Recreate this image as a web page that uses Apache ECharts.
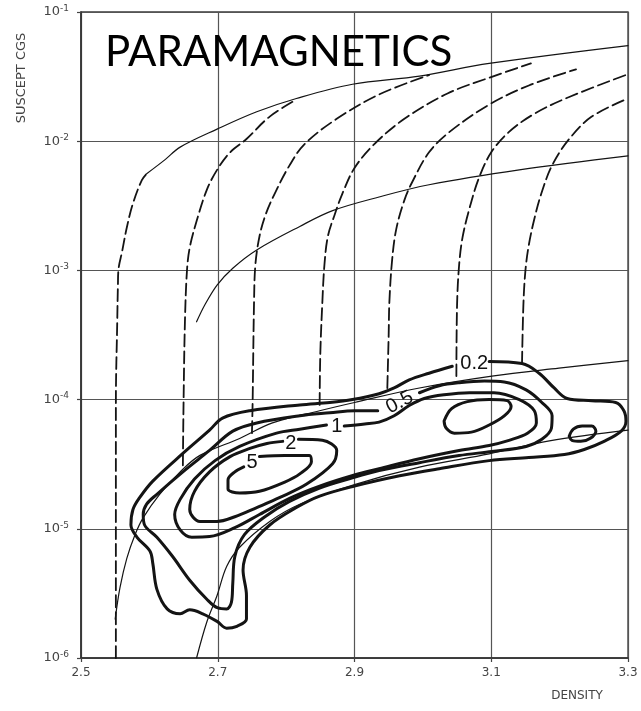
<!DOCTYPE html>
<html>
<head>
<meta charset="utf-8">
<script src="https://cdn.jsdelivr.net/npm/echarts@6/dist/echarts.min.js"></script>
<style>
html, body { margin: 0; padding: 0; background: #fff; }
#chart { width: 641px; height: 711px; }
</style>
</head>
<body>
<div id="chart"></div>
<script>
// Axis ranges: density (g/cm3) and volume susceptibility (cgs), one tick per decade.
const densityTicks = [2.5, 2.7, 2.9, 3.1, 3.3];
const susceptRange = [1e-6, 1e-1];

// Dashed mixing curves, one per starting density: [density, susceptibility]
const dashed255 = [[2.551,1e-6],[2.551,9.5e-5],[2.553,4.0e-4],[2.554,7.7e-4],[2.555,1.04e-3],[2.560,1.39e-3],[2.567,2.15e-3],[2.576,3.3e-3],[2.589,5.0e-3],[2.596,5.6e-3]];
const dashed265 = [[2.649,3.1e-5],[2.650,9.5e-5],[2.652,4.0e-4],[2.655,1.0e-3],[2.659,1.5e-3],[2.669,2.4e-3],[2.684,4.2e-3],[2.699,6.0e-3],[2.718,8.2e-3],[2.742,1.04e-2],[2.776,1.55e-2],[2.815,2.1e-2]];
const dashed275 = [[2.750,5.5e-5],[2.751,9.5e-5],[2.753,5.4e-4],[2.755,1.1e-3],[2.761,1.83e-3],[2.770,2.7e-3],[2.783,3.9e-3],[2.805,6.5e-3],[2.827,9.5e-3],[2.874,1.49e-2],[2.936,2.3e-2],[3.009,3.25e-2]];
const dashed285 = [[2.849,9.1e-5],[2.850,2.27e-4],[2.853,5.7e-4],[2.856,1.1e-3],[2.861,1.83e-3],[2.871,2.7e-3],[2.882,3.9e-3],[2.900,6.2e-3],[2.929,9.5e-3],[2.973,1.49e-2],[3.036,2.34e-2],[3.097,3.1e-2],[3.158,4.0e-2]];
const dashed295 = [[2.948,1.23e-4],[2.950,3.2e-4],[2.951,5.7e-4],[2.955,1.2e-3],[2.961,2.08e-3],[2.973,3.5e-3],[2.985,4.9e-3],[3.009,8.2e-3],[3.039,1.18e-2],[3.097,1.92e-2],[3.155,2.7e-2],[3.224,3.6e-2]];
const dashed305 = [[3.049,1.52e-4],[3.050,5.4e-4],[3.053,1.1e-3],[3.058,1.8e-3],[3.068,3.0e-3],[3.082,5.2e-3],[3.100,8.2e-3],[3.126,1.18e-2],[3.163,1.63e-2],[3.214,2.2e-2],[3.3,3.3e-2]];
const dashed315 = [[3.145,1.9e-4],[3.147,5.4e-4],[3.150,1.0e-3],[3.155,1.58e-3],[3.163,2.5e-3],[3.173,3.9e-3],[3.189,6.5e-3],[3.214,1.04e-2],[3.247,1.55e-2],[3.3,2.14e-2]];

// Thin solid reference curves
const thinUpper = [[2.596,5.6e-3],[2.623,7.2e-3],[2.645,9.0e-3],[2.699,1.24e-2],[2.757,1.69e-2],[2.815,2.14e-2],[2.897,2.76e-2],[2.995,3.19e-2],[3.097,4.0e-2],[3.3,5.5e-2]];
const thinMiddle = [[2.669,4.0e-4],[2.681,5.4e-4],[2.699,7.7e-4],[2.722,1.04e-3],[2.757,1.44e-3],[2.820,2.19e-3],[2.868,2.9e-3],[2.936,3.7e-3],[3.009,4.6e-3],[3.141,6.0e-3],[3.3,7.7e-3]];
const thinLower = [[2.550,2.0e-6],[2.557,3.5e-6],[2.567,5.9e-6],[2.579,9.0e-6],[2.591,1.22e-5],[2.615,1.85e-5],[2.645,2.76e-5],[2.674,3.7e-5],[2.732,5.0e-5],[2.780,6.6e-5],[2.849,8.2e-5],[2.900,9.5e-5],[2.995,1.23e-4],[3.101,1.52e-4],[3.199,1.75e-4],[3.3,2.0e-4]];
const thinBottom = [[2.669,1e-6],[2.684,1.9e-6],[2.699,3.05e-6],[2.713,5.1e-6],[2.732,7.2e-6],[2.776,1.14e-5],[2.820,1.55e-5],[2.900,2.2e-5],[2.995,3.0e-5],[3.097,3.8e-5],[3.185,4.8e-5],[3.3,5.8e-5]];

// Density contours (percent of samples); open ends leave room for the level label
const contour02 = [[3.097,1.97e-4],[3.145,1.9e-4],[3.170,1.6e-4],[3.192,1.23e-4],[3.211,1.02e-4],[3.247,9.8e-5],[3.282,9.5e-5],[3.294,8.2e-5],[3.297,6.8e-5],[3.290,5.7e-5],[3.265,4.75e-5],[3.236,4.11e-5],[3.207,3.76e-5],[3.155,3.56e-5],[3.097,3.37e-5],[3.024,2.92e-5],[2.966,2.57e-5],[2.900,2.14e-5],[2.849,1.79e-5],[2.815,1.46e-5],[2.776,1.07e-5],[2.747,7.2e-6],[2.737,4.8e-6],[2.742,3.05e-6],[2.742,2.0e-6],[2.728,1.76e-6],[2.713,1.70e-6],[2.699,1.92e-6],[2.678,2.2e-6],[2.659,2.36e-6],[2.645,2.2e-6],[2.626,2.4e-6],[2.611,3.4e-6],[2.605,5.4e-6],[2.601,6.7e-6],[2.582,8.6e-6],[2.573,1.07e-5],[2.576,1.41e-5],[2.586,1.75e-5],[2.605,2.34e-5],[2.649,3.83e-5],[2.688,5.8e-5],[2.707,7.2e-5],[2.747,8.2e-5],[2.820,9.1e-5],[2.864,9.5e-5],[2.897,1.0e-4],[2.936,1.11e-4],[2.958,1.23e-4],[2.980,1.42e-4],[3.009,1.6e-4],[3.043,1.81e-4]];
const contour05 = [[2.995,1.13e-4],[3.024,1.28e-4],[3.053,1.35e-4],[3.090,1.39e-4],[3.119,1.37e-4],[3.151,1.19e-4],[3.174,9.5e-5],[3.189,7.5e-5],[3.188,6.0e-5],[3.174,4.93e-5],[3.151,4.34e-5],[3.101,3.97e-5],[3.053,3.69e-5],[2.995,3.25e-5],[2.936,2.82e-5],[2.897,2.48e-5],[2.849,2.07e-5],[2.805,1.63e-5],[2.769,1.24e-5],[2.739,9.0e-6],[2.725,6.1e-6],[2.722,3.8e-6],[2.720,2.7e-6],[2.713,2.4e-6],[2.700,2.44e-6],[2.684,2.85e-6],[2.659,4.0e-6],[2.634,6.1e-6],[2.611,8.6e-6],[2.593,1.07e-5],[2.591,1.29e-5],[2.596,1.55e-5],[2.611,1.85e-5],[2.649,2.76e-5],[2.688,4.04e-5],[2.722,5.7e-5],[2.757,6.6e-5],[2.820,7.5e-5],[2.864,7.9e-5],[2.900,8.2e-5],[2.934,8.2e-5]];
const contour05Island = [[3.214,5.21e-5],[3.220,5.91e-5],[3.233,6.24e-5],[3.247,6.24e-5],[3.253,5.70e-5],[3.245,5.02e-5],[3.231,4.75e-5],[3.218,4.84e-5],[3.214,5.21e-5]];
const contour1 = [[2.885,6.24e-5],[2.915,6.48e-5],[2.936,6.7e-5],[2.958,7.5e-5],[2.980,9.0e-5],[3.002,1.02e-4],[3.031,1.09e-4],[3.068,1.13e-4],[3.104,1.13e-4],[3.141,1.0e-4],[3.163,8.2e-5],[3.166,6.6e-5],[3.153,5.5e-5],[3.126,4.84e-5],[3.097,4.42e-5],[3.053,4.04e-5],[2.995,3.49e-5],[2.936,2.92e-5],[2.900,2.61e-5],[2.849,2.14e-5],[2.805,1.72e-5],[2.761,1.29e-5],[2.725,1.02e-5],[2.688,8.7e-6],[2.662,8.6e-6],[2.645,9.8e-6],[2.637,1.29e-5],[2.645,1.69e-5],[2.666,2.43e-5],[2.696,3.37e-5],[2.732,4.34e-5],[2.786,5.5e-5],[2.820,5.9e-5],[2.859,6.36e-5]];
const contour2 = [[2.818,4.93e-5],[2.853,4.84e-5],[2.874,4.04e-5],[2.868,3.19e-5],[2.830,2.22e-5],[2.791,1.75e-5],[2.757,1.46e-5],[2.725,1.24e-5],[2.699,1.14e-5],[2.674,1.14e-5],[2.659,1.41e-5],[2.666,1.95e-5],[2.688,2.76e-5],[2.718,3.62e-5],[2.747,4.19e-5],[2.772,4.58e-5],[2.795,4.75e-5]];
const contour2Right = [[3.031,6.83e-5],[3.042,8.5e-5],[3.065,9.64e-5],[3.097,1.0e-4],[3.123,9.82e-5],[3.129,8.81e-5],[3.119,7.48e-5],[3.097,6.36e-5],[3.071,5.6e-5],[3.046,5.5e-5],[3.034,6.02e-5],[3.031,6.83e-5]];
const contour5 = [[2.761,3.62e-5],[2.798,3.69e-5],[2.834,3.69e-5],[2.837,3.31e-5],[2.820,2.66e-5],[2.798,2.30e-5],[2.761,1.95e-5],[2.732,1.89e-5],[2.715,2.03e-5],[2.715,2.39e-5],[2.725,2.76e-5],[2.738,3.02e-5]];

// Contour level labels and where each sits on its line
const contourLevels = ['0.2', '0.5', '1', '2', '5'];
const levelAnchors = [[3.075,1.9e-4],[2.966,9.5e-5],[2.874,6.24e-5],[2.807,4.58e-5],[2.750,3.25e-5]];

const INK = '#141414';

function curve(data, width, dash, smooth) {
  return {
    type: 'line',
    data: data,
    showSymbol: false,
    symbol: 'none',
    smooth: smooth,
    silent: true,
    lineStyle: { color: INK, width: width, type: dash || 'solid', cap: 'round', join: 'round' },
    z: 3
  };
}

const series = [];
[dashed255, dashed265, dashed275, dashed285, dashed295, dashed305, dashed315]
  .forEach(d => series.push(curve(d, 1.8, [12, 5], 0.35)));
[thinUpper, thinMiddle, thinLower, thinBottom]
  .forEach(d => series.push(curve(d, 1.2, null, 0.35)));
[contour02, contour05, contour05Island, contour1, contour2, contour2Right, contour5]
  .forEach(d => series.push(curve(d, 3, null, 0.35)));

// Level numbers placed on the contours through the axis scales
series.push({
  type: 'custom',
  silent: true,
  z: 5,
  data: levelAnchors.map((p, i) => [p[0], p[1], i]),
  renderItem: function (params, api) {
    const pt = api.coord([api.value(0), api.value(1)]);
    const level = contourLevels[api.value(2)];
    return {
      type: 'text',
      x: pt[0],
      y: pt[1],
      rotation: level === '0.5' ? 28 * Math.PI / 180 : 0,
      style: {
        text: level,
        fill: '#111',
        fontSize: 20,
        fontFamily: 'Liberation Sans, Arial, sans-serif',
        textAlign: 'center',
        textVerticalAlign: 'middle'
      }
    };
  }
});

const chart = echarts.init(document.getElementById('chart'), null, { renderer: 'canvas' });
chart.setOption({
  animation: false,
  backgroundColor: '#ffffff',
  grid: { left: 81, right: 13, top: 12, bottom: 53, show: true, borderColor: '#3a3a3a', borderWidth: 1.3 },
  xAxis: {
    type: 'value',
    min: densityTicks[0],
    max: densityTicks[densityTicks.length - 1],
    interval: densityTicks[1] - densityTicks[0],
    axisLine: { show: true, lineStyle: { color: '#333', width: 1.6 } },
    axisTick: { show: true, length: 4, lineStyle: { color: '#444', width: 1.2 } },
    axisLabel: { color: '#444', fontSize: 12, margin: 9, fontFamily: 'DejaVu Sans, sans-serif', formatter: v => v.toFixed(1) },
    splitLine: { show: true, lineStyle: { color: '#555', width: 1.2 } }
  },
  yAxis: {
    type: 'log',
    logBase: 10,
    min: susceptRange[0],
    max: susceptRange[1],
    axisLine: { show: true, lineStyle: { color: '#333', width: 1.6 } },
    axisTick: { show: true, length: 4, lineStyle: { color: '#444', width: 1.2 } },
    minorTick: { show: false },
    axisLabel: {
      margin: 12,
      formatter: v => '{b|10}{s|' + Math.round(Math.log10(v)) + '}',
      rich: {
        b: { fontSize: 13, color: '#444', fontFamily: 'DejaVu Sans, sans-serif', lineHeight: 16 },
        s: { fontSize: 9, color: '#444', fontFamily: 'DejaVu Sans, sans-serif', verticalAlign: 'top' }
      }
    },
    splitLine: { show: true, lineStyle: { color: '#555', width: 1.2 } }
  },
  graphic: [
    {
      type: 'text', left: 105, top: 31, z: 10,
      style: { text: 'PARAMAGNETICS', fontSize: 42, fontFamily: 'Lato, sans-serif', fill: '#000' }
    },
    {
      type: 'text', x: 22, y: 78, rotation: Math.PI / 2, z: 10,
      style: { text: 'SUSCEPT CGS', fontSize: 13, fontFamily: 'DejaVu Sans, sans-serif', fill: '#444', textAlign: 'center', textVerticalAlign: 'middle' }
    },
    {
      type: 'text', x: 577, y: 696, z: 10,
      style: { text: 'DENSITY', fontSize: 12, fontFamily: 'DejaVu Sans, sans-serif', fill: '#444', textAlign: 'center', textVerticalAlign: 'middle' }
    }
  ],
  series: series
});
</script>
</body>
</html>
